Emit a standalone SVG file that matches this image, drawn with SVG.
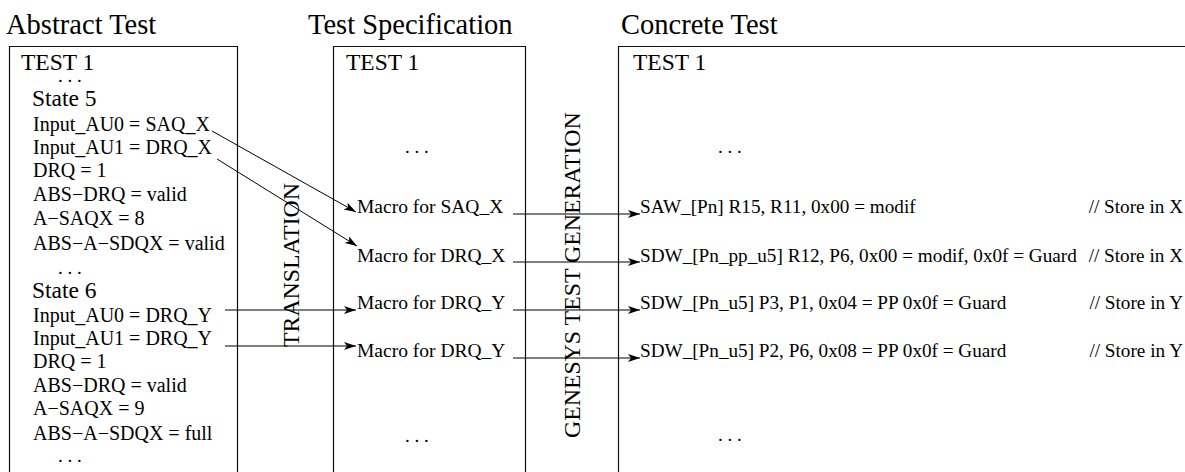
<svg xmlns="http://www.w3.org/2000/svg" width="1185" height="472" viewBox="0 0 1185 472">
<style>
text{font-family:"Liberation Serif","Times New Roman",serif;fill:#000}
.title{font-size:28.5px}
.head{font-size:23.5px}
.item{font-size:20px}
.mac{font-size:19.5px}
.rt{font-size:19.2px}
.dots{font-size:19px}
.vert{font-size:23.8px}
.box{fill:none;stroke:#111;stroke-width:1.2}
.conn{fill:none;stroke:#000;stroke-width:1}
</style>
<defs>
<marker id="ah" markerUnits="userSpaceOnUse" markerWidth="14" markerHeight="10" refX="12" refY="4" orient="auto">
<path d="M0,0 L12,4 L0,8 L3,4 z" fill="#000"/>
</marker>
</defs>
<rect x="0" y="0" width="1185" height="472" fill="#fff"/>

<g id="abstract-test">
<text class="title" x="6" y="34">Abstract Test</text>
<path class="box" d="M9.5,480 V46.5 H237.5 V480"/>
<text class="head" x="21" y="70">TEST 1</text>
<text class="dots" x="58" y="82">. . .</text>
<text class="head" x="32" y="106">State 5</text>
<text class="item" x="33" y="131">Input_AU0 = SAQ_X</text>
<text class="item" x="33" y="154">Input_AU1 = DRQ_X</text>
<text class="item" x="33" y="177">DRQ = 1</text>
<text class="item" x="33" y="201">ABS−DRQ = valid</text>
<text class="item" x="33" y="225">A−SAQX = 8</text>
<text class="item" x="33" y="250">ABS−A−SDQX = valid</text>
<text class="dots" x="58" y="274">. . .</text>
<text class="head" x="32" y="298">State 6</text>
<text class="item" x="33" y="322">Input_AU0 = DRQ_Y</text>
<text class="item" x="33" y="345">Input_AU1 = DRQ_Y</text>
<text class="item" x="33" y="368">DRQ = 1</text>
<text class="item" x="33" y="392">ABS−DRQ = valid</text>
<text class="item" x="33" y="415">A−SAQX = 9</text>
<text class="item" x="33" y="440">ABS−A−SDQX = full</text>
<text class="dots" x="58" y="462">. . .</text>
</g>

<g id="translation-label">
<text class="vert" transform="translate(299,347) rotate(-90)">TRANSLATION</text>
</g>

<g id="test-specification">
<text class="title" x="308" y="34">Test Specification</text>
<path class="box" d="M333.5,480 V46.5 H525.5 V480"/>
<text class="head" x="346" y="70">TEST 1</text>
<text class="dots" x="405" y="153">. . .</text>
<text class="mac" x="357" y="213">Macro for SAQ_X</text>
<text class="mac" x="357" y="262">Macro for DRQ_X</text>
<text class="mac" x="357" y="309">Macro for DRQ_Y</text>
<text class="mac" x="357" y="357">Macro for DRQ_Y</text>
<text class="dots" x="405" y="442">. . .</text>
</g>

<g id="generation-label">
<text class="vert" transform="translate(580,438) rotate(-90)">GENESYS TEST GENERATION</text>
</g>

<g id="concrete-test">
<text class="title" x="621" y="34">Concrete Test</text>
<path class="box" d="M618.5,480 V46.5 H1190"/>
<text class="head" x="633" y="70">TEST 1</text>
<text class="dots" x="718" y="153">. . .</text>
<text class="rt" x="640" y="213">SAW_[Pn] R15, R11, 0x00 = modif</text>
<text class="rt" x="1183" y="213" text-anchor="end">// Store in X</text>
<text class="rt" x="640" y="262">SDW_[Pn_pp_u5] R12, P6, 0x00 = modif, 0x0f = Guard</text>
<text class="rt" x="1183" y="262" text-anchor="end">// Store in X</text>
<text class="rt" x="640" y="309">SDW_[Pn_u5] P3, P1, 0x04 = PP 0x0f = Guard</text>
<text class="rt" x="1183" y="309" text-anchor="end">// Store in Y</text>
<text class="rt" x="640" y="357">SDW_[Pn_u5] P2, P6, 0x08 = PP 0x0f = Guard</text>
<text class="rt" x="1183" y="357" text-anchor="end">// Store in Y</text>
<text class="dots" x="718" y="441">. . .</text>
</g>

<g id="connectors">
<line class="conn" x1="212" y1="131" x2="356" y2="212" marker-end="url(#ah)"/>
<line class="conn" x1="217" y1="159" x2="357" y2="246" marker-end="url(#ah)"/>
<line class="conn" x1="225" y1="310" x2="356" y2="310" marker-end="url(#ah)"/>
<line class="conn" x1="225" y1="346" x2="356" y2="346" marker-end="url(#ah)"/>
<line class="conn" x1="513" y1="214" x2="640" y2="214" marker-end="url(#ah)"/>
<line class="conn" x1="513" y1="262" x2="640" y2="262" marker-end="url(#ah)"/>
<line class="conn" x1="513" y1="310" x2="640" y2="310" marker-end="url(#ah)"/>
<line class="conn" x1="513" y1="358" x2="640" y2="358" marker-end="url(#ah)"/>
</g>
</svg>
